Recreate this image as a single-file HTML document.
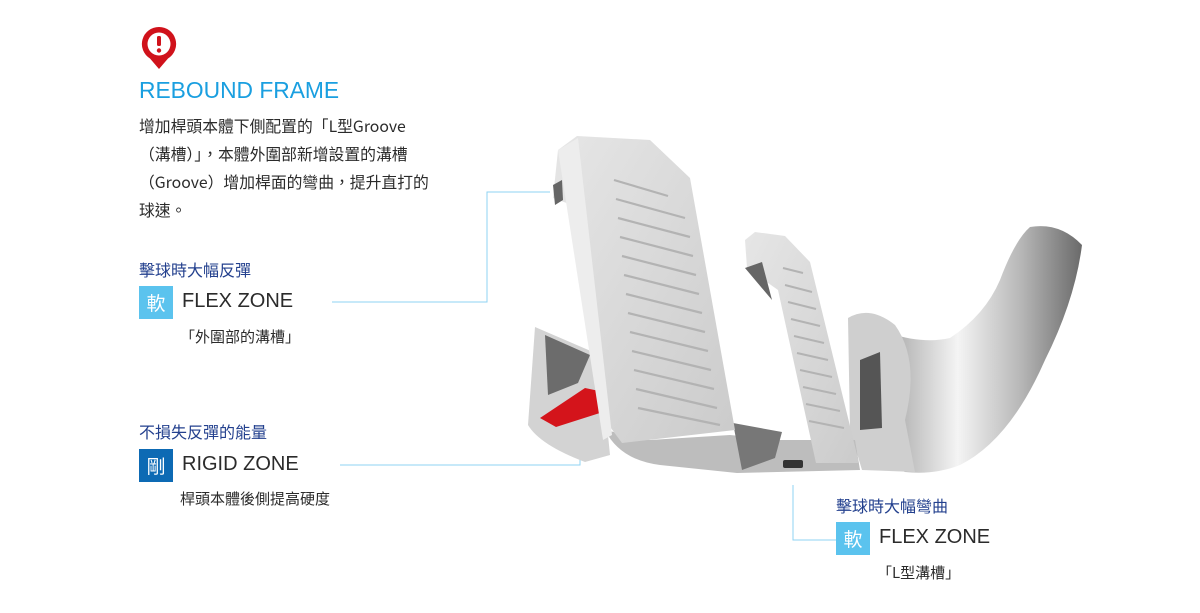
<!DOCTYPE html>
<html><head><meta charset="utf-8"><style>
body{margin:0;width:1200px;height:613px;background:#fff;position:relative;overflow:hidden;font-family:"Liberation Sans","Noto Sans CJK TC",sans-serif;color:#2b2b2b}
.a{position:absolute;white-space:nowrap}
.t{font-size:15.8px;line-height:28px;font-family:"Noto Sans CJK TC",sans-serif}
.h{color:#23408e;font-size:16px;font-family:"Noto Sans CJK TC",sans-serif}
.box{width:34px;height:33px;color:#fff;font-size:19px;line-height:33px;text-align:center;font-family:"Noto Sans CJK TC",sans-serif}
.zone{font-size:20px;color:#2b2b2b}
.sub{font-size:15px;font-family:"Noto Sans CJK TC",sans-serif}
</style></head><body>
<svg class="a" style="left:140px;top:25px" width="38" height="48" viewBox="0 0 38 48">
<path d="M19 2a17 17 0 0 1 9 31.5L19 44l-9-10.5A17 17 0 0 1 19 2z" fill="#d0121b"/>
<circle cx="19" cy="19" r="11.5" fill="#fff"/>
<rect x="17" y="11" width="4" height="10" rx="1.5" fill="#d0121b"/><circle cx="19" cy="25.5" r="2.2" fill="#d0121b"/>
</svg>
<div class="a" style="left:139px;top:77px;font-size:22.8px;color:#1a9fe0">REBOUND FRAME</div>
<div class="a t" style="left:139px;top:112px">增加桿頭本體下側配置的「L型Groove<br>（溝槽）」，本體外圍部新增設置的溝槽<br>（Groove）增加桿面的彎曲，提升直打的<br>球速。</div>

<div class="a h" style="left:139px;top:257px">擊球時大幅反彈</div>
<div class="a box" style="left:139px;top:286px;background:#5bc3ee">軟</div>
<div class="a zone" style="left:182px;top:290px">FLEX ZONE</div>
<div class="a sub" style="left:180px;top:326px">「外圍部的溝槽」</div>

<div class="a h" style="left:139px;top:419px">不損失反彈的能量</div>
<div class="a box" style="left:139px;top:449px;background:#0d6ab4">剛</div>
<div class="a zone" style="left:182px;top:453px">RIGID ZONE</div>
<div class="a sub" style="left:180px;top:488px">桿頭本體後側提高硬度</div>

<div class="a h" style="left:836px;top:493px">擊球時大幅彎曲</div>
<div class="a box" style="left:836px;top:522px;background:#5bc3ee">軟</div>
<div class="a zone" style="left:879px;top:526px">FLEX ZONE</div>
<div class="a sub" style="left:877px;top:562px">「L型溝槽」</div>

<svg class="a" style="left:0;top:0" width="1200" height="613">
<defs>
<linearGradient id="m" x1="0" y1="0" x2="1" y2="0"><stop offset="0" stop-color="#9a9a9a"/><stop offset=".4" stop-color="#f4f4f4"/><stop offset=".7" stop-color="#b8b8b8"/><stop offset="1" stop-color="#6a6a6a"/></linearGradient>
<linearGradient id="p" x1="0" y1="0" x2="1" y2="1"><stop offset="0" stop-color="#e6e6e6"/><stop offset="1" stop-color="#cbcbcb"/></linearGradient>
</defs>
<g fill="none" stroke="#8fd3f3" stroke-width="1">
<path d="M332 302H487V192H550"/><path d="M340 465H580V455"/><path d="M793 485V540H836"/>
</g>
<path d="M1030 227Q1060 222 1082 245Q1075 300 1045 360Q1010 440 960 465Q935 475 905 472L875 460L880 330Q920 345 950 338Q985 315 1000 280Q1015 240 1030 227Z" fill="url(#m)"/>
<path d="M848 318Q870 305 895 325Q920 360 905 420L915 472L862 470L850 430Z" fill="#cfcfcf"/>
<path d="M860 360L880 352L882 428L860 430Z" fill="#555"/>
<path d="M535 327L600 355L610 455L585 462Q540 445 528 425Z" fill="#d3d3d3"/>
<path d="M545 335L590 355L578 383L548 395Z" fill="#6c6c6c"/>
<path d="M540 418L585 388L604 392L603 412L556 427Z" fill="#d4141b"/>
<path d="M605 430Q620 460 660 465L737 473L860 470L855 440L780 440L730 435L650 440Z" fill="#bdbdbd"/>
<path d="M733 423L782 432L775 458L742 470Z" fill="#777"/>
<rect x="783" y="460" width="20" height="8" rx="2" fill="#333"/>
<path d="M558 150L577 136L650 140L690 178L735 430L622 443L605 420L572 205L553 198Z" fill="url(#p)"/>
<path d="M558 150L578 138L612 435L603 440Z" fill="#ededed"/>
<path d="M553 185L562 180L563 200L555 205Z" fill="#666"/>
<g stroke="#b3b3b3" stroke-width="2.2">
<line x1="614" y1="180" x2="668" y2="196"/>
<line x1="616" y1="199" x2="685" y2="218"/><line x1="618" y1="218" x2="690" y2="237"/>
<line x1="620" y1="237" x2="693" y2="256"/><line x1="622" y1="256" x2="696" y2="275"/>
<line x1="624" y1="275" x2="699" y2="294"/><line x1="626" y1="294" x2="702" y2="313"/>
<line x1="628" y1="313" x2="705" y2="332"/><line x1="630" y1="332" x2="708" y2="351"/>
<line x1="632" y1="351" x2="711" y2="370"/><line x1="634" y1="370" x2="714" y2="389"/>
<line x1="636" y1="389" x2="717" y2="408"/><line x1="638" y1="408" x2="720" y2="425"/>
</g>
<path d="M745 240L755 232L785 236L810 262L859 463L816 463L778 290L747 268Z" fill="url(#p)"/>
<path d="M745 268L762 262L772 300Z" fill="#666"/>
<g stroke="#b3b3b3" stroke-width="2">
<line x1="783" y1="268" x2="803" y2="273"/><line x1="785" y1="285" x2="812" y2="292"/>
<line x1="788" y1="302" x2="816" y2="309"/><line x1="791" y1="319" x2="820" y2="326"/>
<line x1="794" y1="336" x2="824" y2="343"/><line x1="797" y1="353" x2="828" y2="360"/>
<line x1="800" y1="370" x2="832" y2="377"/><line x1="803" y1="387" x2="836" y2="394"/>
<line x1="806" y1="404" x2="840" y2="411"/><line x1="809" y1="421" x2="844" y2="428"/>
</g>
</svg>
</body></html>
